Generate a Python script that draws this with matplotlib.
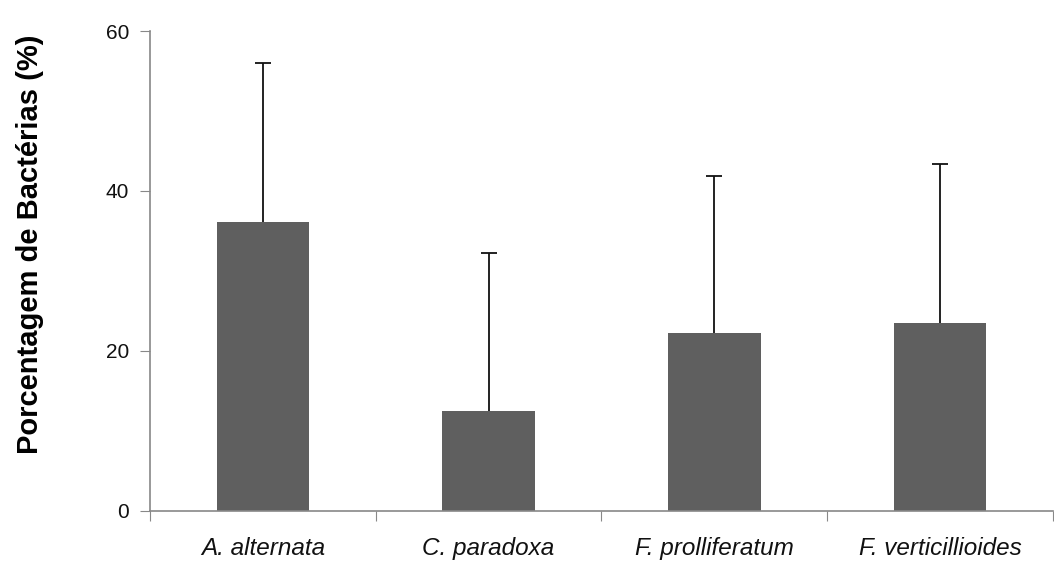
import matplotlib.pyplot as plt
import numpy as np

# --- Datos ---
especies = ["A. alternata", "C. paradoxa", "F. prolliferatum", "F. verticillioides"]
porcentaje = [36.1, 12.5, 22.3, 23.5]
erro_sup = [56.0, 32.2, 41.9, 43.4]  # topo da barra de erro

plt.rcParams['font.family'] = ['Liberation Sans', 'DejaVu Sans']

fig = plt.figure(figsize=(10.54, 5.68), dpi=100)
ax = fig.add_axes([0.1423, 0.1004, 0.8567, 0.845])

x = np.arange(len(especies))
erro = np.array(erro_sup) - np.array(porcentaje)
ax.bar(x, porcentaje, width=0.41, color="#5f5f5f", zorder=2)
linha, caps, barras = ax.errorbar(x, porcentaje, yerr=[np.zeros(len(x)), erro], fmt="none",
                                  ecolor="#111111", elinewidth=1.3, capsize=6, capthick=1.3, zorder=3)
caps[0].set_visible(False)  # só a barra superior

ax.set_xlim(-0.5, 3.5)
ax.set_ylim(0, 60)
ax.set_yticks([0, 20, 40, 60])

# ticks do eixo x nos limites das categorias
ax.set_xticks(np.arange(-0.5, 4, 1))
ax.set_xticklabels([])
ax.set_xticks(x, minor=True)
ax.set_xticklabels(especies, minor=True, style="italic", fontsize=17.5, color="#111111")
ax.tick_params(axis="x", which="minor", length=0, pad=19)
ax.tick_params(axis="x", which="major", length=7, color="#888888", direction="out")
ax.tick_params(axis="y", length=7, color="#888888", labelsize=15, pad=8, labelcolor="#111111")

for lado in ["top", "right"]:
    ax.spines[lado].set_visible(False)
for lado in ["left", "bottom"]:
    ax.spines[lado].set_color("#888888")
    ax.spines[lado].set_linewidth(1.2)

ax.set_ylabel("Porcentagem de Bactérias (%)", fontsize=21, fontweight="bold")
ax.yaxis.set_label_coords(-0.117, 0.555)

fig.savefig("out.png", dpi=100)
